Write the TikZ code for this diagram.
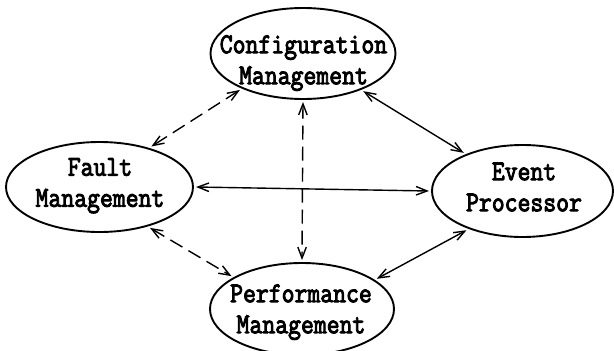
\documentclass[tikz,border=0pt]{standalone}
\usepackage{fontspec}
\newfontfamily\dfont{Latin Modern Mono}[BoldFont={Latin Modern Mono},BoldFeatures={FakeBold=3.5}]
\usetikzlibrary{arrows.meta,shapes.geometric}
\newcommand{\twoline}[2]{\scalebox{1}[1.15]{\begin{tabular}{@{}c@{}}#1\\#2\end{tabular}}}
\begin{document}
\begin{tikzpicture}[x=1pt,y=-1pt,
  box/.style={ellipse, draw, line width=1.9pt, inner sep=0pt, outer sep=3pt},
  lbl/.style={font=\dfont\bfseries\fontsize{25}{27}\selectfont, inner sep=0pt},
  tipb/.tip={Straight Barb[length=11pt,width=8.5pt]},
  link/.style={line width=1.4pt, tipb-tipb},
  dlink/.style={link, dash pattern=on 14pt off 7pt}]
\useasboundingbox (0,0) rectangle (614,351);
\clip (0,0) rectangle (614,351);
\node[box, minimum width=185pt, minimum height=91pt] (cfg) at (303,53.5) {};
\node[box, minimum width=187pt, minimum height=90pt] (flt) at (99.5,187) {};
\node[box, minimum width=181pt, minimum height=92pt] (evt) at (522.5,191) {};
\node[box, minimum width=184pt, minimum height=92pt] (prf) at (302,309) {};
\node[lbl] (cfgt) at (303.5,62.5) {\twoline{Configuration}{Management}};
\node[lbl] (fltt) at (100,185) {\twoline{Fault}{Management}};
\node[lbl] (evtt) at (524,189.5) {\twoline{Event}{Processor}};
\node[lbl] (prft) at (301,311.5) {\twoline{Performance}{Management}};
\draw[dlink] (cfg.210) -- (flt.38);
\draw[link] (cfg.328) -- (evt.147);
\draw[dlink] (cfg.270) -- (prf.90);
\draw[link] (flt.0) -- (evt.180);
\draw[dlink] (flt.321) -- (prf.155);
\draw[link] (evt.215) -- (prf.22);
\end{tikzpicture}
\end{document}
